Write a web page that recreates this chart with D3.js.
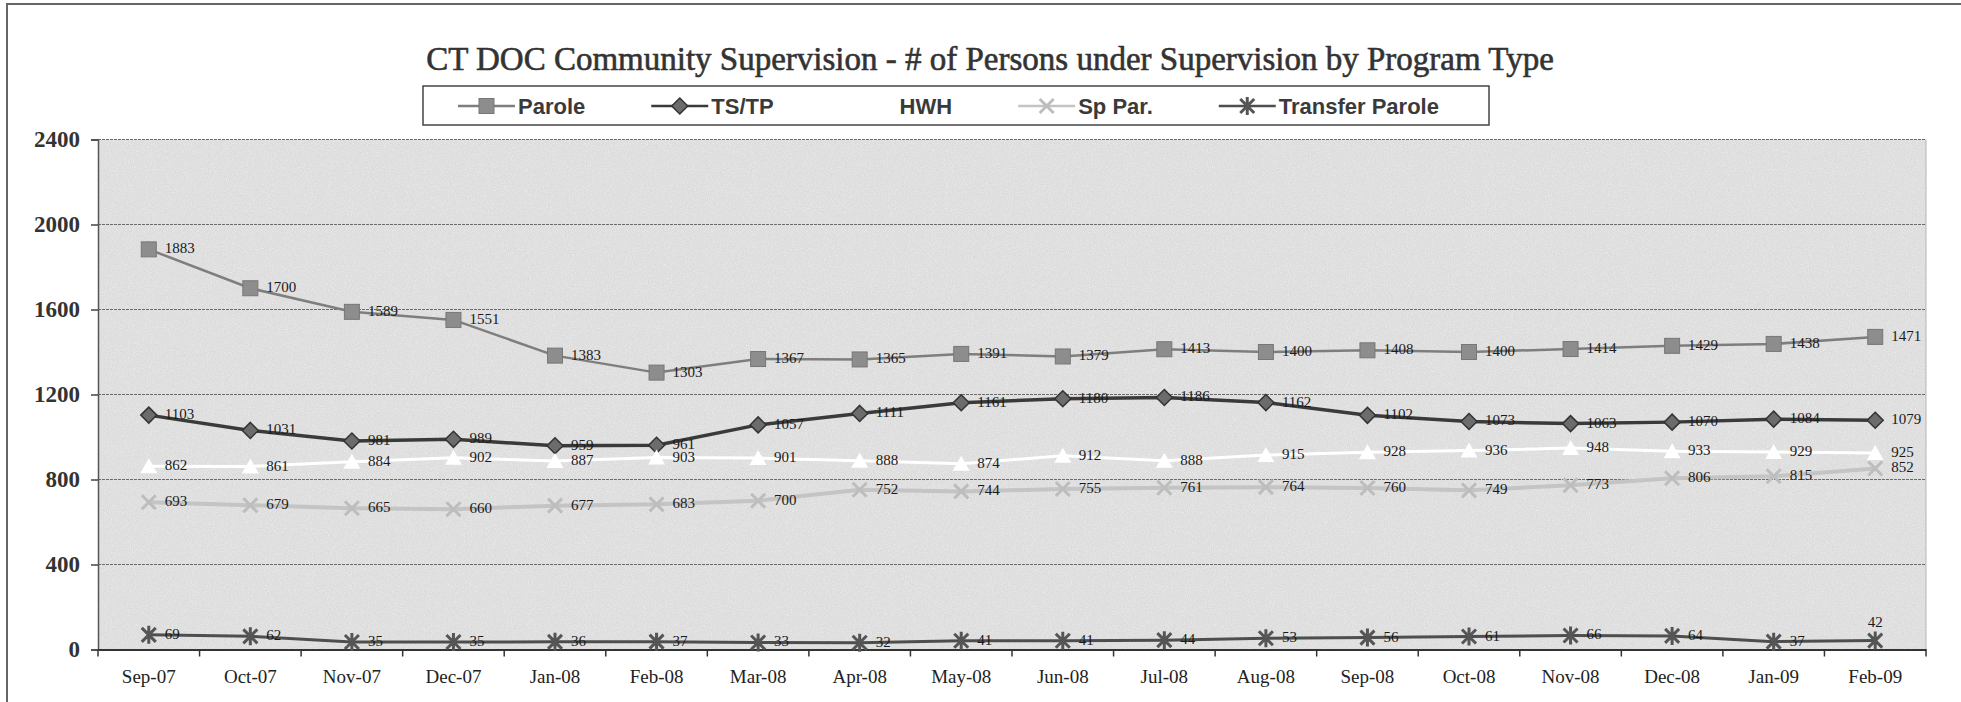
<!DOCTYPE html>
<html>
<head>
<meta charset="utf-8">
<script src="https://cdn.jsdelivr.net/npm/d3@7"></script>
<style>
body { margin: 0; background: #fff; overflow: hidden; }
svg { display: block; }
</style>
</head>
<body>
<svg></svg>
<script>
// values
var months = [
  "Sep-07", "Oct-07", "Nov-07", "Dec-07", "Jan-08", "Feb-08", "Mar-08", "Apr-08", "May-08",
  "Jun-08", "Jul-08", "Aug-08", "Sep-08", "Oct-08", "Nov-08", "Dec-08", "Jan-09", "Feb-09"
];
var parole = [1883, 1700, 1589, 1551, 1383, 1303, 1367, 1365, 1391, 1379, 1413, 1400, 1408, 1400, 1414, 1429, 1438, 1471];
var tstp = [1103, 1031, 981, 989, 959, 961, 1057, 1111, 1161, 1180, 1186, 1162, 1102, 1073, 1063, 1070, 1084, 1079];
var hwh = [862, 861, 884, 902, 887, 903, 901, 888, 874, 912, 888, 915, 928, 936, 948, 933, 929, 925];
var spPar = [693, 679, 665, 660, 677, 683, 700, 752, 744, 755, 761, 764, 760, 749, 773, 806, 815, 852];
var transferParole = [69, 62, 35, 35, 36, 37, 33, 32, 41, 41, 44, 53, 56, 61, 66, 64, 37, 42];
var yTicks = [0, 400, 800, 1200, 1600, 2000, 2400];

var seriesNames = ["Parole", "TS/TP", "HWH", "Sp Par.", "Transfer Parole"];
var seriesValues = [parole, tstp, hwh, spPar, transferParole];

// look of each series
var styles = {
  "Parole":          { line: "#7e7e7e", lw: 2.5, marker: "square",   fill: "#8d8d8d", stroke: "#777" },
  "TS/TP":           { line: "#3a3a3a", lw: 3.5, marker: "diamond",  fill: "#6c6c6c", stroke: "#333" },
  "HWH":             { line: "#ffffff", lw: 3,   marker: "triangle", fill: "#ffffff", stroke: "#ffffff" },
  "Sp Par.":         { line: "#c4c4c4", lw: 4,   marker: "x",        fill: "none",    stroke: "#bdbdbd" },
  "Transfer Parole": { line: "#4e4e4e", lw: 3,   marker: "star",     fill: "none",    stroke: "#555" }
};

var width = 1961;
var height = 702;
var plot = { left: 98, right: 1926, top: 139.5, bottom: 649.5 };

var svg = d3.select("svg")
    .attr("width", width)
    .attr("height", height);

// speckle texture of the scanned plot area
var defs = svg.append("defs");
var grain = defs.append("filter").attr("id", "grain").attr("x", 0).attr("y", 0).attr("width", 1).attr("height", 1);
grain.append("feTurbulence").attr("type", "fractalNoise").attr("baseFrequency", 0.95).attr("numOctaves", 2).attr("seed", 4);
grain.append("feColorMatrix").attr("type", "matrix")
    .attr("values", "0 0 0 0 1  0 0 0 0 1  0 0 0 0 1  1.6 0 0 0 -0.6");

// outer frame of the scanned page (top and left edges only)
svg.append("path")
    .attr("d", "M7," + height + "V4H" + width)
    .attr("fill", "none")
    .attr("stroke", "#666")
    .attr("stroke-width", 2);

var x = d3.scaleBand()
    .domain(months)
    .range([plot.left, plot.right]);

var y = d3.scaleLinear()
    .domain([0, 2400])
    .range([plot.bottom, plot.top]);

// plot area
svg.append("rect")
    .attr("x", plot.left).attr("y", plot.top)
    .attr("width", plot.right - plot.left).attr("height", plot.bottom - plot.top)
    .attr("fill", "#dcdcdc");
svg.append("rect")
    .attr("x", plot.left).attr("y", plot.top)
    .attr("width", plot.right - plot.left).attr("height", plot.bottom - plot.top)
    .attr("filter", "url(#grain)")
    .attr("opacity", 0.5);
svg.append("line")
    .attr("x1", plot.right).attr("x2", plot.right)
    .attr("y1", plot.top).attr("y2", plot.bottom)
    .attr("stroke", "#b5b5b5");

// gridlines
svg.append("g")
  .selectAll("line")
  .data(yTicks.filter(d => d > 0))
  .enter()
  .append("line")
    .attr("x1", plot.left).attr("x2", plot.right)
    .attr("y1", d => y(d)).attr("y2", d => y(d))
    .attr("stroke", "#6a6a6a")
    .attr("stroke-width", 1)
    .attr("stroke-dasharray", "3,1");

// y axis
var yAxis = svg.append("g")
    .attr("transform", "translate(" + plot.left + ",0)")
    .call(d3.axisLeft(y).tickValues(yTicks).tickSize(7).tickPadding(11).tickFormat(d3.format("d")));
yAxis.select(".domain").attr("stroke", "#555").attr("stroke-width", 1.5);
yAxis.selectAll(".tick line").attr("stroke", "#444").attr("stroke-width", 1.5);
yAxis.selectAll("text")
    .attr("fill", "#333")
    .style("font-family", "'Liberation Serif', 'Times New Roman', serif")
    .style("font-weight", "bold")
    .style("font-size", "23px");

// x axis: labels centred in each band, ticks on the band edges
var xAxis = svg.append("g")
    .attr("transform", "translate(0," + plot.bottom + ")")
    .call(d3.axisBottom(x).tickSize(0).tickPadding(20));
xAxis.select(".domain").attr("stroke", "#333").attr("stroke-width", 2);
xAxis.selectAll("text")
    .attr("fill", "#222")
    .style("font-family", "'Liberation Serif', 'Times New Roman', serif")
    .style("font-weight", "normal")
    .style("font-size", "19px");
xAxis.selectAll(".edge")
  .data(months.concat(["end"]))
  .enter()
  .append("line")
    .classed("edge", true)
    .attr("x1", (d, i) => plot.left + i * x.step())
    .attr("x2", (d, i) => plot.left + i * x.step())
    .attr("y1", 0).attr("y2", 7)
    .attr("stroke", "#333")
    .attr("stroke-width", 1.5);

function drawMarker(sel, type, st) {
  if (type === "square") {
    sel.append("rect")
      .attr("x", -7.5).attr("y", -7.5).attr("width", 15).attr("height", 15)
      .attr("fill", st.fill).attr("stroke", st.stroke).attr("stroke-width", 1);
  } else if (type === "diamond") {
    sel.append("path")
      .attr("d", "M0,-8L8,0L0,8L-8,0Z")
      .attr("fill", st.fill).attr("stroke", st.stroke).attr("stroke-width", 1.5);
  } else if (type === "triangle") {
    sel.append("path")
      .attr("d", "M0,-8L8.5,7L-8.5,7Z")
      .attr("fill", st.fill);
  } else if (type === "x") {
    sel.append("path")
      .attr("d", "M-7,-7L7,7M-7,7L7,-7")
      .attr("stroke", st.stroke).attr("stroke-width", 3).attr("fill", "none");
  } else if (type === "star") {
    sel.append("path")
      .attr("d", "M-7,-7L7,7M-7,7L7,-7M0,-9V9")
      .attr("stroke", st.stroke).attr("stroke-width", 3).attr("fill", "none");
  }
}

var line = d3.line()
    .x((d, i) => x(months[i]) + x.bandwidth() / 2)
    .y(d => y(d));

var chart = svg.append("g").classed("series", true);

seriesNames.forEach(function(name, s) {
  var st = styles[name];
  var vals = seriesValues[s];
  var g = chart.append("g");
  g.append("path")
      .attr("d", line(vals))
      .attr("fill", "none")
      .attr("stroke", st.line)
      .attr("stroke-width", st.lw)
      .attr("stroke-linejoin", "round");
  g.selectAll(".pt")
    .data(vals)
    .enter()
    .append("g")
      .classed("pt", true)
      .attr("transform", (d, i) => "translate(" + (x(months[i]) + x.bandwidth() / 2) + "," + y(d) + ")")
      .each(function() { drawMarker(d3.select(this), st.marker, st); });
});

// data labels on top of every line
seriesNames.forEach(function(name, s) {
  var vals = seriesValues[s];
  var last = vals.length - 1;
  chart.append("g")
    .selectAll("text")
    .data(vals)
    .enter()
    .append("text")
      .attr("x", (d, i) => x(months[i]) + x.bandwidth() / 2 + (name === "Transfer Parole" && i === last ? 0 : 16))
      .attr("y", (d, i) => y(d) + (name === "Transfer Parole" && i === last ? -19 : -1))
      .attr("text-anchor", (d, i) => name === "Transfer Parole" && i === last ? "middle" : "start")
      .attr("dominant-baseline", "central")
      .attr("fill", "#1a1a1a")
      .style("font-family", "'Liberation Serif', 'Times New Roman', serif")
      .style("font-size", "15px")
      .text(d => d);
});

// title
svg.append("text")
    .attr("x", 990)
    .attr("y", 70)
    .attr("text-anchor", "middle")
    .attr("fill", "#333")
    .attr("stroke", "#333")
    .attr("stroke-width", 0.6)
    .style("font-family", "'Liberation Serif', 'Times New Roman', serif")
    .style("font-size", "33px")
    .text("CT DOC Community Supervision - # of Persons under Supervision by Program Type");

// legend
var legend = svg.append("g").classed("legend", true);
legend.append("rect")
    .attr("x", 423).attr("y", 86)
    .attr("width", 1066).attr("height", 39)
    .attr("fill", "#fff")
    .attr("stroke", "#444")
    .attr("stroke-width", 1.5);

var lx = 458;
seriesNames.forEach(function(name) {
  var st = styles[name];
  var item = legend.append("g").attr("transform", "translate(" + lx + ",106)");
  item.append("line")
      .attr("x1", 0).attr("x2", 57)
      .attr("stroke", st.line)
      .attr("stroke-width", Math.min(st.lw, 2.5));
  var m = item.append("g").attr("transform", "translate(28.5,0)");
  drawMarker(m, st.marker, st);
  var t = item.append("text")
      .attr("x", 60)
      .attr("dominant-baseline", "central")
      .attr("fill", "#3a3a3a")
      .style("font-family", "'Liberation Sans', Arial, sans-serif")
      .style("font-weight", "bold")
      .style("font-size", "22px")
      .text(name);
  lx += 60 + t.node().getComputedTextLength() + 66;
});
</script>
</body>
</html>
